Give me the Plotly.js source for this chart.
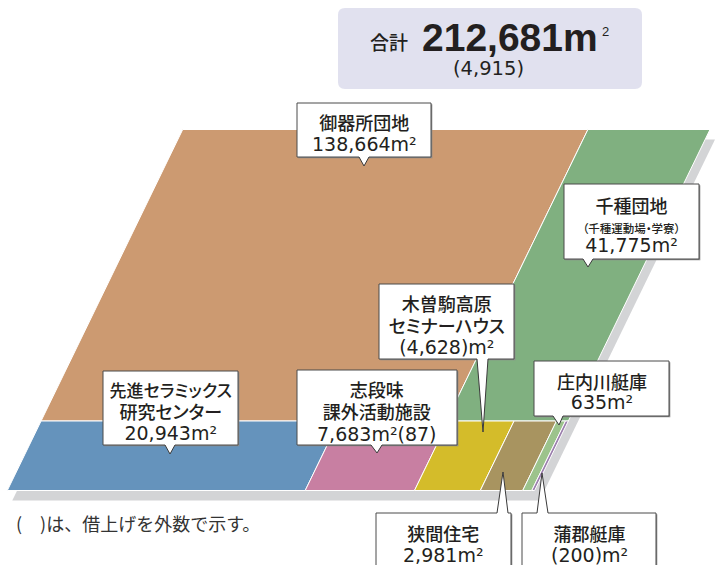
<!DOCTYPE html>
<html><head><meta charset="utf-8">
<script src="https://cdn.plot.ly/plotly-3.0.1.min.js"></script>
<style>
html,body{margin:0;padding:0;background:#fff}
#chart{width:716px;height:565px}
.annotation text{font-feature-settings:"palt" 1;}
.annotation[data-index="0"] text{font-feature-settings:normal;}
</style>
</head><body><div id="chart"></div>
<script>
// ---------------- data ----------------
const upperNames = ['御器所団地', '千種団地'];
const upperValues = [138664, 41775];
const stripNames = ['先進セラミックス研究センター', '志段味課外活動施設', '木曽駒高原セミナーハウス', '狭間住宅', '庄内川艇庫', '蒲郡艇庫'];
const stripValues = [20943, 7683, 4628, 2981, 635, 200];
const stripBorrowed = [false, false, true, false, false, true];
const shidamiBorrowedValue = 87;
const totalOwned = 212681;
const totalBorrowed = 4915;
const footnote = '(　)は、借上げを外数で示す。';

// ---------------- styles ----------------
const upperColors = ['#cc9a71', '#80b080'];
const stripColors = ['#6593bc', '#c87fa2', '#d4bc2a', '#a89460', '#9cc38c', '#9b7fad'];
const FONT = 'Noto Sans CJK JP, Noto Sans, sans-serif';
const NUMFONT = 'DejaVu Sans, Noto Sans CJK JP, sans-serif';
const TXT = '#231f20';

// parallelogram frame (layout)
const G = {x0: 7.3, yb: 490.5, W: 527.3, H: 361, S: 175.4, stripFrac: 0.1925, shX: 5, shY: 10};
function P(u, v) { return [G.x0 + u * G.W + v * G.S, G.yb - v * G.H]; }
function quad(u0, u1, v0, v1, dx, dy) {
  dx = dx || 0; dy = dy || 0;
  const pts = [P(u0, v0), P(u1, v0), P(u1, v1), P(u0, v1), P(u0, v0)];
  return {x: pts.map(p => p[0] + dx), y: pts.map(p => p[1] + dy)};
}
const fmt = n => n.toLocaleString('en-US');

const traces = [];
// shadow
const sh = quad(0, 1, 0, 1, G.shX, G.shY);
traces.push({type: 'scatter', mode: 'lines', x: sh.x, y: sh.y, fill: 'toself', fillcolor: '#d3d4d6',
  line: {width: 0, color: '#d3d4d6'}, hoverinfo: 'skip', showlegend: false});
// upper regions (split by value)
const upperSum = upperValues.reduce((a, b) => a + b, 0);
let cu = 0;
upperValues.forEach((v, i) => {
  const u0 = cu / upperSum, u1 = (cu + v) / upperSum; cu += v;
  const q = quad(u0, u1, G.stripFrac, 1);
  traces.push({type: 'scatter', mode: 'lines', x: q.x, y: q.y, fill: 'toself', fillcolor: upperColors[i],
    line: {width: 1, color: '#ffffff'}, name: upperNames[i], hoverinfo: 'name', showlegend: false});
});
// bottom strip (split by value)
const stripSum = stripValues.reduce((a, b) => a + b, 0);
let cs = 0;
stripValues.forEach((v, i) => {
  const u0 = cs / stripSum, u1 = (cs + v) / stripSum; cs += v;
  const q = quad(u0, u1, 0, G.stripFrac);
  traces.push({type: 'scatter', mode: 'lines', x: q.x, y: q.y, fill: 'toself', fillcolor: stripColors[i],
    line: {width: 1, color: '#ffffff'}, name: stripNames[i], hoverinfo: 'name', showlegend: false});
});

// ---------------- labels ----------------
const valTxt = (v, borrowed) => borrowed ? '(' + fmt(v) + ')m²' : fmt(v) + 'm²';
const N = 19; // number line size
const C = 18; // CJK line size
const labels = [
  {box: [297, 103, 431, 157], tail: {side: 'b', b: [359, 369], tip: [364, 166]}, y: [120, 141],
   lines: [[upperNames[0], C, FONT], [valTxt(upperValues[0]), N, NUMFONT]]},
  {box: [564, 184, 699, 259], tail: {side: 'b', b: [583, 593], tip: [588, 267]}, y: [203, 242],
   lines: [[upperNames[1], C, FONT], ['（千種運動場・学寮）', 11.5, FONT], [valTxt(upperValues[1]), N, NUMFONT]]},
  {box: [379, 284, 514, 359], tail: {side: 'b', b: [477, 488], tip: [483, 432]}, y: [301, 344],
   lines: [['木曽駒高原', C, FONT], ['セミナーハウス', C, FONT], [valTxt(stripValues[2], stripBorrowed[2]), N, NUMFONT]]},
  {box: [297, 370, 457, 445], tail: {side: 'b', b: [371, 382], tip: [377, 453]}, y: [387, 431],
   lines: [['志段味', C, FONT], ['課外活動施設', C, FONT], [valTxt(stripValues[1]) + '(' + shidamiBorrowedValue + ')', N, NUMFONT]]},
  {box: [103, 371, 238, 445], tail: {side: 'b', b: [165, 175], tip: [170, 454]}, y: [388, 431],
   lines: [['先進セラミックス', 17, FONT], ['研究センター', C, FONT], [valTxt(stripValues[0]), N, NUMFONT]]},
  {box: [534, 361, 669, 416], tail: {side: 'b', b: [553, 563], tip: [559, 425]}, y: [379, 399],
   lines: [[stripNames[4], C, FONT], [valTxt(stripValues[4]), N, NUMFONT]]},
  {box: [376, 513, 511, 580], tail: {side: 't', b: [497, 508], tip: [503, 472]}, y: [531, 552],
   lines: [[stripNames[3], C, FONT], [valTxt(stripValues[3]), N, NUMFONT]]},
  {box: [522, 513, 656, 580], tail: {side: 't', b: [537, 548], tip: [542, 473]}, y: [531, 552],
   lines: [[stripNames[5], C, FONT], [valTxt(stripValues[5], stripBorrowed[5]), N, NUMFONT]]}
];

const shapes = [];
const annotations = [];
// footnote first (index 0, no proportional kana)
annotations.push({xref: 'x', yref: 'y', x: 14, y: 523, text: footnote, showarrow: false,
  xanchor: 'left', yanchor: 'middle', font: {family: FONT, size: 18, color: '#333333'}});

labels.forEach(L => {
  const [x0, y0, x1, y1] = L.box;
  shapes.push({type: 'rect', xref: 'x', yref: 'y', x0: x0 + 1.3, y0: y0 + 1.3, x1: x1 + 1.3, y1: y1 + 1.3,
    fillcolor: '#8a8a8a', line: {width: 0}});
  shapes.push({type: 'rect', xref: 'x', yref: 'y', x0: x0, y0: y0, x1: x1, y1: y1,
    fillcolor: '#ffffff', line: {width: 1, color: '#4a4a4a'}});
  const t = L.tail;
  const by = t.side === 'b' ? y1 : y0;
  const inn = t.side === 'b' ? -1.2 : 1.2;
  shapes.push({type: 'path', xref: 'x', yref: 'y',
    path: `M${t.b[0]},${by + inn} L${t.b[0]},${by} L${t.tip[0]},${t.tip[1]} L${t.b[1]},${by} L${t.b[1]},${by + inn} Z`,
    fillcolor: '#ffffff', line: {width: 0}});
  shapes.push({type: 'path', xref: 'x', yref: 'y',
    path: `M${t.b[0]},${by} L${t.tip[0]},${t.tip[1]} L${t.b[1]},${by}`,
    fillcolor: 'rgba(0,0,0,0)', line: {width: 1, color: '#3a3a3a'}});
  const cx = (x0 + x1) / 2;
  const n = L.lines.length;
  const spacing = (L.y[1] - L.y[0]) / (n - 1);
  const baseSize = spacing / 1.3;
  const text = L.lines.map(([txt, sz, fam]) =>
    `<span style="font-size:${sz}px;font-family:${fam};font-weight:${fam === FONT ? 500 : 400}">${txt}</span>`).join('<br>');
  annotations.push({xref: 'x', yref: 'y', x: cx, y: (L.y[0] + L.y[1]) / 2 + 1, text: text, showarrow: false,
    xanchor: 'center', yanchor: 'middle', align: 'center', font: {family: FONT, size: baseSize, color: TXT}});
});

// total box (rounded)
(function () {
  const x0 = 338, y0 = 8, x1 = 642, y1 = 89, r = 7;
  shapes.push({type: 'path', xref: 'x', yref: 'y', layer: 'below',
    path: `M${x0 + r},${y0} L${x1 - r},${y0} Q${x1},${y0} ${x1},${y0 + r} L${x1},${y1 - r} Q${x1},${y1} ${x1 - r},${y1} L${x0 + r},${y1} Q${x0},${y1} ${x0},${y1 - r} L${x0},${y0 + r} Q${x0},${y0} ${x0 + r},${y0} Z`,
    fillcolor: '#e1e1ef', line: {width: 0}});
})();
annotations.push({xref: 'x', yref: 'y', x: 389, y: 41, text: '合計', showarrow: false,
  xanchor: 'center', yanchor: 'middle', font: {family: FONT, size: 19, color: TXT, weight: 500}});
annotations.push({xref: 'x', yref: 'y', x: 600, y: 37, text: '<b>' + fmt(totalOwned) + 'm</b>', showarrow: false,
  xanchor: 'right', yanchor: 'middle', font: {family: 'Liberation Sans, Arial, sans-serif', size: 39, color: TXT}});
annotations.push({xref: 'x', yref: 'y', x: 600, y: 31, text: '2', showarrow: false,
  xanchor: 'left', yanchor: 'middle', font: {family: 'Liberation Sans, Arial, sans-serif', size: 13, color: TXT}});
annotations.push({xref: 'x', yref: 'y', x: 488, y: 68, text: '(' + fmt(totalBorrowed) + ')', showarrow: false,
  xanchor: 'center', yanchor: 'middle', font: {family: NUMFONT, size: 19.5, color: TXT}});

const layout = {
  width: 716, height: 565,
  margin: {l: 0, r: 0, t: 0, b: 0},
  paper_bgcolor: '#ffffff', plot_bgcolor: '#ffffff',
  xaxis: {range: [0, 716], visible: false, fixedrange: true},
  yaxis: {range: [565, 0], visible: false, fixedrange: true},
  shapes: shapes, annotations: annotations, showlegend: false
};
Plotly.newPlot('chart', traces, layout, {staticPlot: true, displayModeBar: false});
</script>
</body></html>
